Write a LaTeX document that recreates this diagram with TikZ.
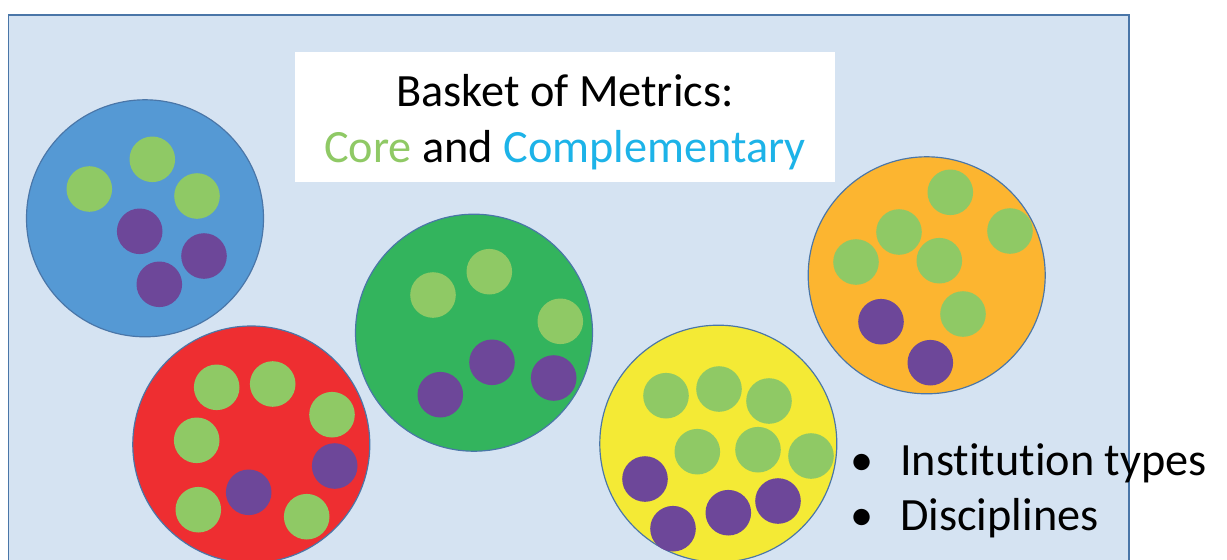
\documentclass[tikz,border=0pt]{standalone}
\usepackage{fontspec}
\setmainfont{Carlito}[Ligatures=NoCommon]
\usepackage{tikz}
\usetikzlibrary{positioning}

\definecolor{panel}{HTML}{D5E3F2}
\definecolor{edge}{HTML}{4A76A8}
\definecolor{bskblue}{HTML}{5599D4}
\definecolor{bskred}{HTML}{EE2E31}
\definecolor{bskgreen}{HTML}{33B45D}
\definecolor{bskyellow}{HTML}{F4EA35}
\definecolor{bskorange}{HTML}{FCB530}
\definecolor{leaf}{HTML}{8FC965}
\definecolor{plum}{HTML}{6D4799}
\definecolor{sky}{HTML}{1DB3E8}

\begin{document}
\begin{tikzpicture}[x=0.03cm,y=-0.03cm,
    basket/.style={draw=edge,line width=1pt},
    core/.style={fill=leaf},
    extra/.style={fill=plum},
    big/.style={font=\fontsize{39.5}{47.5}\selectfont}]
    \useasboundingbox (0,0) rectangle (1227,560);

    %panel
    \filldraw[fill=panel,draw=edge,line width=1.4pt] (8.5,15) rectangle (1129,620);

    %title
    \fill[white] (295,52) rectangle (835,182);
    \node[big,align=center] (title) at (565,122)
        {Basket of Metrics:\\\textcolor{leaf}{Core} and \textcolor{sky}{Complementary}};

    %blue basket
    \filldraw[basket,fill=bskblue] (145,218.3) circle (118.5);
    \fill[core] (89.3,189) circle (22.8);
    \fill[core] (152.3,159.3) circle (22.8);
    \fill[core] (197,196) circle (22.8);
    \fill[extra] (139.7,231.3) circle (22.8);
    \fill[extra] (204,256) circle (22.8);
    \fill[extra] (159.3,284.3) circle (22.8);

    %red basket
    \filldraw[basket,fill=bskred] (251.3,444.5) circle (118.5);
    \fill[core] (216.7,387.3) circle (22.8);
    \fill[core] (272.7,384) circle (22.8);
    \fill[core] (332,414.7) circle (22.8);
    \fill[core] (196.7,440.3) circle (22.8);
    \fill[core] (198.3,509.7) circle (22.8);
    \fill[core] (306.7,516.7) circle (22.8);
    \fill[extra] (248.7,492.3) circle (22.8);
    \fill[extra] (334.7,466) circle (22.8);

    %green basket
    \filldraw[basket,fill=bskgreen] (474,332.7) circle (118.5);
    \fill[core] (433,295) circle (22.8);
    \fill[core] (489.3,271.7) circle (22.8);
    \fill[core] (560.3,321.3) circle (22.8);
    \fill[extra] (492,362.3) circle (22.8);
    \fill[extra] (553.7,378) circle (22.8);
    \fill[extra] (440.3,394.7) circle (22.8);

    %yellow basket
    \filldraw[basket,fill=bskyellow] (718.3,443.7) circle (118.5);
    \fill[core] (666,395.7) circle (22.8);
    \fill[core] (719,389) circle (22.8);
    \fill[core] (769,401) circle (22.8);
    \fill[core] (697.3,451.7) circle (22.8);
    \fill[core] (758,449.7) circle (22.8);
    \fill[core] (811,456) circle (22.8);
    \fill[extra] (645,479) circle (22.8);
    \fill[extra] (673,528.7) circle (22.8);
    \fill[extra] (728.3,512.7) circle (22.8);
    \fill[extra] (778,501) circle (22.8);

    %orange basket
    \filldraw[basket,fill=bskorange] (926.7,275.3) circle (118.5);
    \fill[core] (950.3,192.3) circle (22.8);
    \fill[core] (899,232) circle (22.8);
    \fill[core] (1010,231) circle (22.8);
    \fill[core] (856,262) circle (22.8);
    \fill[core] (939.3,260.7) circle (22.8);
    \fill[core] (963,314) circle (22.8);
    \fill[extra] (881,321.7) circle (22.8);
    \fill[extra] (930.3,362.7) circle (22.8);

    %bullets
    \node[big,anchor=base west,inner sep=0pt] (inst) at (900,475) {Institution types};
    \node[big,anchor=base west,inner sep=0pt] (disc) at (900,530) {Disciplines};
    \node[big,anchor=base,inner sep=0pt] (dotinst) at (862,475) {•};
    \node[big,anchor=base,inner sep=0pt] (dotdisc) at (862,530) {•};
\end{tikzpicture}
\end{document}
